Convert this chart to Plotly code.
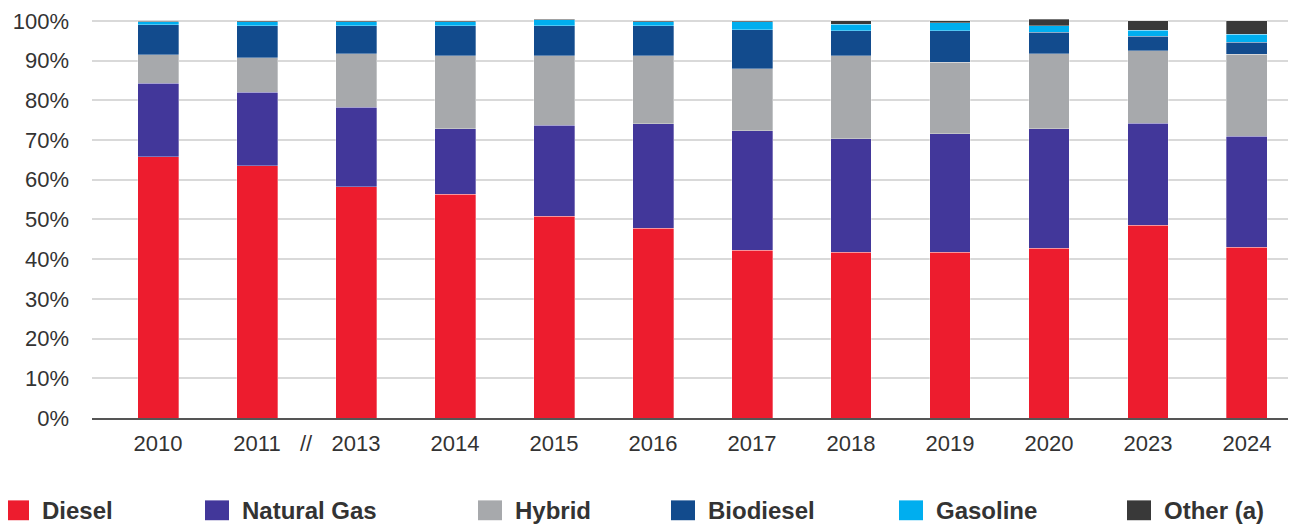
import plotly.graph_objects as go

years = ["2010", "2011", "2013", "2014", "2015", "2016", "2017", "2018", "2019", "2020", "2023", "2024"]
diesel = [65.8, 63.5, 58.3, 56.4, 50.8, 47.8, 42.3, 41.8, 41.8, 42.8, 48.5, 43.0]
natural_gas = [18.5, 18.6, 20.0, 16.4, 23.0, 26.3, 30.0, 28.5, 29.8, 30.0, 25.7, 28.0]
hybrid = [7.2, 8.7, 13.5, 18.4, 17.4, 17.1, 15.7, 20.9, 18.0, 19.0, 18.3, 20.6]
biodiesel = [7.6, 8.0, 7.0, 7.6, 7.6, 7.6, 9.8, 6.3, 7.9, 5.4, 3.7, 3.1]
gasoline = [0.65, 1.0, 1.0, 1.0, 1.5, 1.0, 2.0, 1.7, 2.0, 1.6, 1.5, 2.0]
other = [0.2, 0.2, 0.2, 0.2, 0.2, 0.2, 0.2, 0.8, 0.5, 1.7, 2.4, 3.3]

series_names = ["Diesel", "Natural Gas", "Hybrid", "Biodiesel", "Gasoline", "Other (a)"]
series_values = [diesel, natural_gas, hybrid, biodiesel, gasoline, other]
colors = ["#ED1C2E", "#42379A", "#A7A9AC", "#124B8D", "#00AEEF", "#393939"]

# page body has an 8px margin; the figure starts at (8, 8) of the window
OFF = 8
W, H = 1296 - OFF, 525 - OFF
ML, MR, MT, MB = 84, 1, 8, 107
PW, PH = W - ML - MR, H - MT - MB

fig = go.Figure()
for name, vals, col in zip(series_names, series_values, colors):
    fig.add_trace(go.Bar(
        x=years, y=vals, name=name, marker_color=col,
        marker_line=dict(color="rgba(255,255,255,0.45)", width=0.7),
        width=0.414, showlegend=False,
    ))

def px_x(p):  # screen pixel -> paper
    return (p - OFF - ML) / PW

def px_y(p):
    return (H - MB - (p - OFF)) / PH

# legend (squares + labels)
leg_sq_x = [5, 205, 478, 671, 899, 1127]
shapes = []
annotations = []
for name, col, sx in zip(series_names, colors, leg_sq_x):
    shapes.append(dict(type="rect", xref="paper", yref="paper",
                       x0=px_x(sx), x1=px_x(sx + 24), y0=px_y(521), y1=px_y(501),
                       fillcolor=col, line=dict(width=0)))
    annotations.append(dict(xref="paper", yref="paper", x=px_x(sx + 35), y=px_y(511),
                            text="<b>" + name + "</b>", showarrow=False,
                            xanchor="left", yanchor="middle",
                            font=dict(family="Liberation Sans, Arial", size=24, color="#333333")))

# axis break marker between 2011 and 2013
annotations.append(dict(xref="x", yref="paper", x=1.5, y=px_y(444), text="//", showarrow=False,
                        xanchor="center", yanchor="middle",
                        font=dict(family="Liberation Sans, Arial", size=22, color="#333333")))

fig.update_layout(
    barmode="stack",
    width=W, height=H,
    margin=dict(l=ML, r=MR, t=MT, b=MB),
    plot_bgcolor="white", paper_bgcolor="white",
    shapes=shapes, annotations=annotations,
    font=dict(family="Liberation Sans, Arial", size=22, color="#333333"),
    xaxis=dict(type="category", range=[-0.667, 11.485], showgrid=False, showline=True,
               linecolor="#555555", linewidth=1.5, ticks="", ticklabelstandoff=5,
               tickfont=dict(size=22, color="#333333")),
    yaxis=dict(range=[0, 100.5], dtick=10, ticksuffix="%", showgrid=True,
               gridcolor="#D9D9D9", gridwidth=1.5, zeroline=False, ticks="",
               ticklabelstandoff=22, ticklabeloverflow="allow",
               tickfont=dict(size=22, color="#333333")),
)

fig.write_html("out.html")
